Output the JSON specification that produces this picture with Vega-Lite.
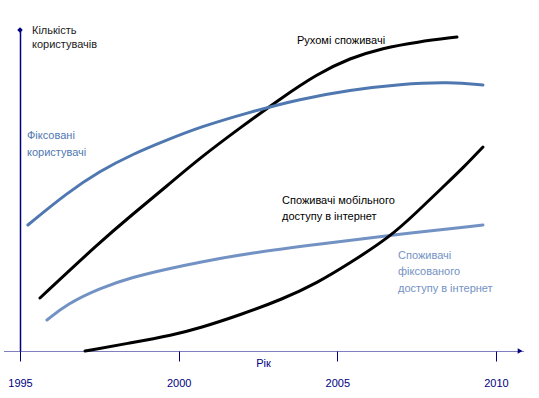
{
  "$schema": "https://vega.github.io/schema/vega-lite/v6.json",
  "width": 519,
  "height": 323,
  "autosize": "none",
  "padding": {"left": 4, "right": 16, "top": 28, "bottom": 47},
  "background": "white",
  "config": {"view": {"stroke": null}, "font": "Liberation Sans"},
  "datasets": {
    "curves": [
      {"series": "mobile", "year": 1995.63, "v": 53},
      {"series": "mobile", "year": 1997.52, "v": 109},
      {"series": "mobile", "year": 1998.56, "v": 137},
      {"series": "mobile", "year": 1999.63, "v": 165},
      {"series": "mobile", "year": 2000.67, "v": 193},
      {"series": "mobile", "year": 2001.93, "v": 223},
      {"series": "mobile", "year": 2003.19, "v": 252},
      {"series": "mobile", "year": 2004.36, "v": 277},
      {"series": "mobile", "year": 2005.40, "v": 293},
      {"series": "mobile", "year": 2006.44, "v": 303},
      {"series": "mobile", "year": 2007.51, "v": 309},
      {"series": "mobile", "year": 2008.77, "v": 314},
      {"series": "fixed", "year": 1995.25, "v": 126},
      {"series": "fixed", "year": 1996.48, "v": 158},
      {"series": "fixed", "year": 1997.52, "v": 180},
      {"series": "fixed", "year": 1998.56, "v": 197},
      {"series": "fixed", "year": 1999.63, "v": 211},
      {"series": "fixed", "year": 2000.67, "v": 224},
      {"series": "fixed", "year": 2002.25, "v": 239},
      {"series": "fixed", "year": 2003.82, "v": 252},
      {"series": "fixed", "year": 2005.40, "v": 261},
      {"series": "fixed", "year": 2006.98, "v": 267},
      {"series": "fixed", "year": 2008.55, "v": 269},
      {"series": "fixed", "year": 2009.59, "v": 266},
      {"series": "fixedNet", "year": 1995.85, "v": 31},
      {"series": "fixedNet", "year": 1996.48, "v": 47},
      {"series": "fixedNet", "year": 1997.52, "v": 63},
      {"series": "fixedNet", "year": 1998.56, "v": 74},
      {"series": "fixedNet", "year": 1999.63, "v": 82},
      {"series": "fixedNet", "year": 2000.67, "v": 89},
      {"series": "fixedNet", "year": 2002.25, "v": 98},
      {"series": "fixedNet", "year": 2004.45, "v": 107},
      {"series": "fixedNet", "year": 2006.76, "v": 116},
      {"series": "fixedNet", "year": 2009.59, "v": 126},
      {"series": "mobileNet", "year": 1997.05, "v": 0},
      {"series": "mobileNet", "year": 1998.47, "v": 8},
      {"series": "mobileNet", "year": 1999.82, "v": 16},
      {"series": "mobileNet", "year": 2000.67, "v": 23},
      {"series": "mobileNet", "year": 2001.93, "v": 36},
      {"series": "mobileNet", "year": 2003.29, "v": 52},
      {"series": "mobileNet", "year": 2004.36, "v": 68},
      {"series": "mobileNet", "year": 2005.40, "v": 88},
      {"series": "mobileNet", "year": 2006.66, "v": 114},
      {"series": "mobileNet", "year": 2007.51, "v": 139},
      {"series": "mobileNet", "year": 2008.33, "v": 164},
      {"series": "mobileNet", "year": 2008.96, "v": 183},
      {"series": "mobileNet", "year": 2009.59, "v": 204}
    ],
    "labels": [
      {"series": "title", "year": 1995.378, "v": 320, "text": "Кількість"},
      {"series": "title", "year": 1995.378, "v": 306, "text": "користувачів"},
      {"series": "fixed", "year": 1995.221, "v": 215, "text": "Фіксовані"},
      {"series": "fixed", "year": 1995.221, "v": 198, "text": "користувачі"},
      {"series": "mobile", "year": 2003.73, "v": 310, "text": "Рухомі споживачі"},
      {"series": "mobileNet", "year": 2003.257, "v": 150, "text": "Споживачі мобільного"},
      {"series": "mobileNet", "year": 2003.257, "v": 134, "text": "доступу в інтернет"},
      {"series": "fixedNet", "year": 2006.913, "v": 95, "text": "Споживачі"},
      {"series": "fixedNet", "year": 2006.913, "v": 79, "text": "фіксованого"},
      {"series": "fixedNet", "year": 2006.913, "v": 62, "text": "доступу в інтернет"}
    ],
    "arrows": [
      {"series": "axis", "year": 2010.76, "v": 0, "shape": "triangle-right"},
      {"series": "axis", "year": 1995, "v": 321, "shape": "diamond"}
    ]
  },
  "encoding": {
    "x": {
      "field": "year", "type": "quantitative",
      "scale": {"domain": [1994.496, 2010.852], "nice": false, "zero": false},
      "axis": {
        "values": [1995, 2000, 2005, 2010],
        "format": "d",
        "grid": false,
        "domainColor": "#000080",
        "domainDash": [1, 1],
        "domainWidth": 1,
        "tickColor": "#000080",
        "tickSize": 10,
        "tickWidth": 1,
        "labelColor": "#000080",
        "labelFont": "Liberation Sans",
        "labelFontSize": 11,
        "labelPadding": 16,
        "labelFlush": false,
        "title": "Рік",
        "titleColor": "#000080",
        "titleFont": "Liberation Sans",
        "titleFontSize": 11,
        "titleFontWeight": "normal",
        "titleAnchor": "start",
        "titleAlign": "center",
        "titleBaseline": "middle",
        "titleX": 259,
        "titleY": 12
      }
    },
    "y": {
      "field": "v", "type": "quantitative",
      "scale": {"domain": [0, 323], "nice": false, "zero": false},
      "axis": {
        "offset": -16,
        "grid": false,
        "ticks": false,
        "labels": false,
        "title": null,
        "domainColor": "#000080",
        "domainWidth": 1.5
      }
    },
    "color": {
      "field": "series", "type": "nominal", "legend": null,
      "scale": {
        "domain": ["mobile", "fixed", "mobileNet", "fixedNet", "title", "axis"],
        "range": ["#000000", "#4f78b0", "#000000", "#7392c4", "#1a1a1a", "#000080"]
      }
    }
  },
  "layer": [
    {
      "data": {"name": "curves"},
      "mark": {"type": "line", "interpolate": "basis", "strokeWidth": 3, "strokeCap": "round"},
      "encoding": {"detail": {"field": "series"}}
    },
    {
      "data": {"name": "labels"},
      "mark": {"type": "text", "align": "left", "baseline": "middle", "fontSize": 11, "font": "Liberation Sans"},
      "encoding": {"text": {"field": "text"}}
    },
    {
      "data": {"name": "arrows"},
      "mark": {"type": "point", "filled": true, "size": 30, "opacity": 1},
      "encoding": {"shape": {"field": "shape", "type": "nominal", "scale": null}}
    }
  ]
}
